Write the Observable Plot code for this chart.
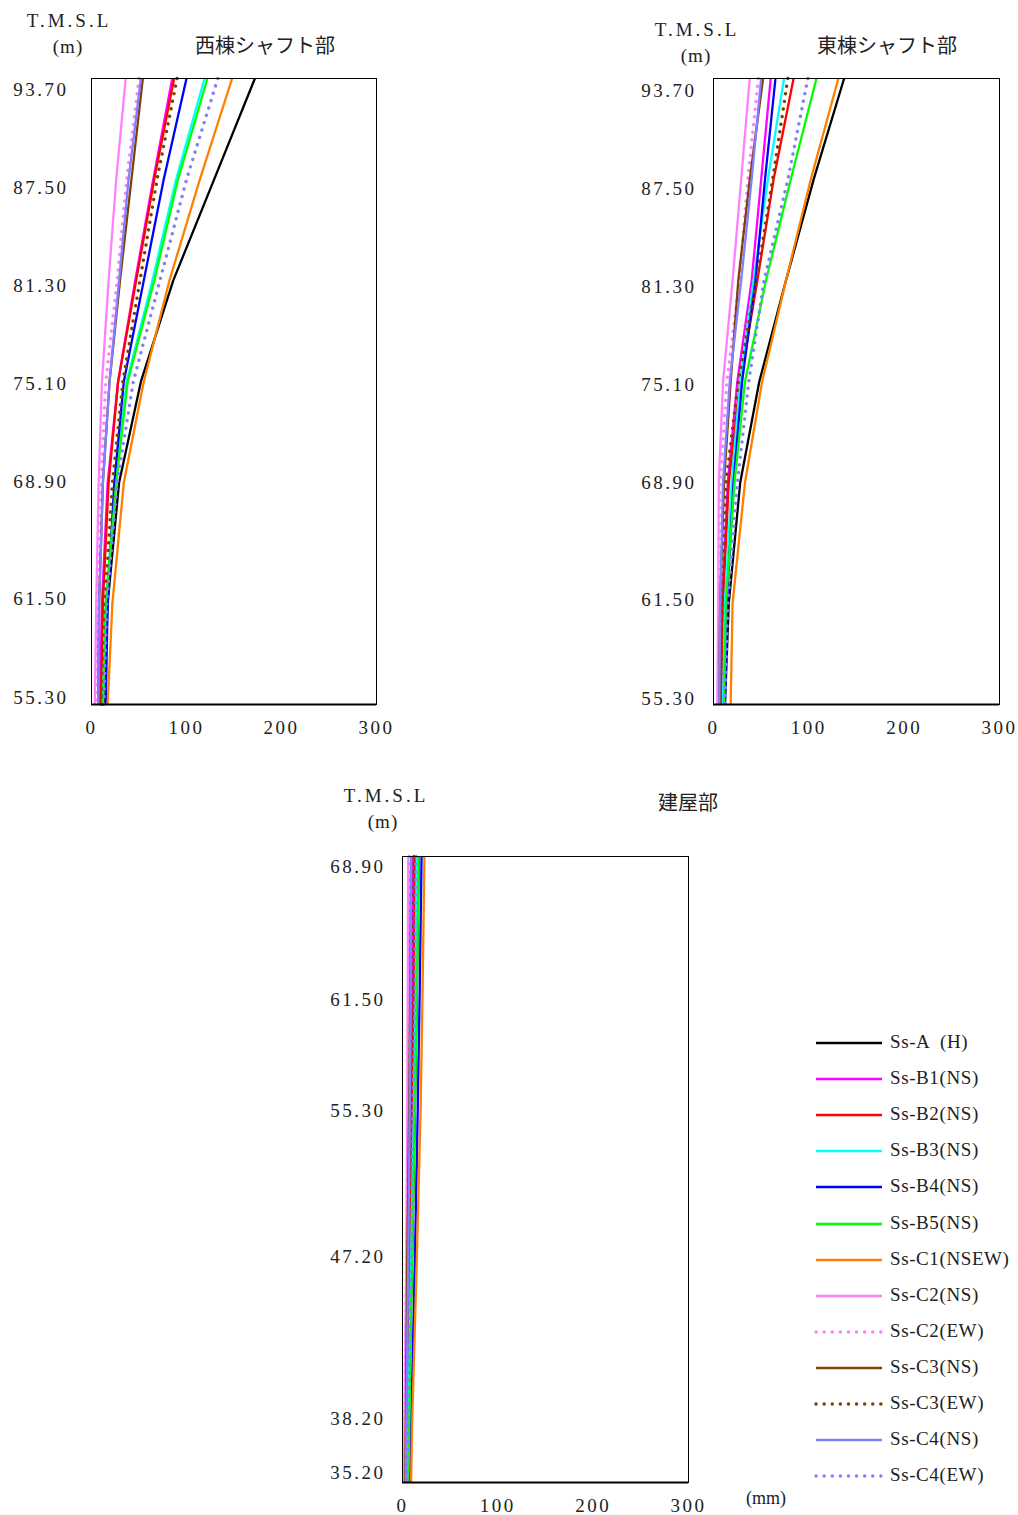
<!DOCTYPE html>
<html><head><meta charset="utf-8">
<script src="https://cdn.jsdelivr.net/npm/d3@7"></script>
<script src="https://cdn.jsdelivr.net/npm/@observablehq/plot@0.6"></script>
<style>
body{margin:0;background:#fff;}
#page{position:relative;width:1018px;height:1515px;background:#fff;overflow:hidden;font-family:"Liberation Serif","Noto Sans CJK JP",serif;color:#222;}
.abs{position:absolute;white-space:pre;transform:translate(-50%,-50%);}
.chart{position:absolute;}
.lg{position:absolute;font-size:19px;white-space:pre;}
</style></head>
<body><div id="page"></div>
<script>
// ---- data ----
const seriesNames = ["Ss-A  (H)","Ss-B1(NS)","Ss-B2(NS)","Ss-B3(NS)","Ss-B4(NS)","Ss-B5(NS)","Ss-C1(NSEW)","Ss-C2(NS)","Ss-C2(EW)","Ss-C3(NS)","Ss-C3(EW)","Ss-C4(NS)","Ss-C4(EW)"];
const seriesColors = ["#000000","#ff00ff","#ff0000","#00ffff","#0000ff","#00ff00","#ff8000","#ff80ff","#ff80ff","#804000","#804000","#8080ff","#8080ff"];
const seriesDotted = [false,false,false,false,false,false,false,false,true,false,true,false,true];

const shaftLevels = [93.70, 87.50, 81.30, 75.10, 68.90, 61.50, 55.30];
const buildingLevels = [68.90, 61.50, 55.30, 47.20, 38.20, 35.20];
const xTicks = [0, 100, 200, 300];

// West shaft (西棟シャフト部), mm at each shaft level
const westValues = [
  [172, 129, 86, 52, 29, 17, 13],
  [85, 65, 46, 28, 17, 11, 9],
  [87, 66, 47, 28, 18, 12, 10],
  [119, 89, 64, 37, 25, 15, 12],
  [100, 76, 55, 34, 24, 17, 15],
  [122, 91, 66, 38, 26, 15, 12],
  [148, 114, 82, 55, 34, 22, 17],
  [36, 26, 18, 11, 7.5, 5, 3.5],
  [50, 37, 27, 15, 10, 7, 6],
  [54, 42, 30, 19, 12, 8, 7],
  [90, 69, 51, 33, 22, 14, 11],
  [52, 39, 29, 19, 12, 8, 7],
  [133, 100, 72, 44, 27, 16, 13]
];
// East shaft (東棟シャフト部)
const eastValues = [
  [137, 105, 76, 48, 28, 16, 12],
  [60, 50, 40, 25, 15, 9, 7],
  [84, 63, 46, 28, 16, 10, 8],
  [74, 57, 42, 28, 19, 12, 10],
  [65, 54, 44, 30, 21, 14, 12],
  [108, 81, 55, 33, 22, 13, 11],
  [131, 102, 76, 51, 33, 20, 18],
  [38, 29, 20, 10, 5.5, 5, 4],
  [47, 36, 27, 14, 7, 5.5, 4.5],
  [52, 38, 26, 18, 11, 7, 6],
  [78, 62, 45, 26, 13, 9, 7],
  [50, 40, 29, 17, 10, 7, 6],
  [99, 78, 53, 37, 25, 15, 12]
];
// Building (建屋部)
const buildingValues = [
  [17, 15, 13, 10, 6, 5],
  [11, 10, 9, 7, 4, 3],
  [13, 12, 10, 8, 5, 4],
  [15, 14, 12, 9, 6, 5],
  [20, 18, 16, 13, 9, 8],
  [17, 15, 13, 10, 7, 6],
  [23, 21, 19, 15, 10, 9],
  [6, 5.5, 5, 4, 2, 1.5],
  [7, 6.5, 5.5, 4, 2, 1],
  [9, 8, 7, 5, 3.5, 3],
  [12, 11, 9.5, 7, 4.5, 3.5],
  [9, 8.5, 7.5, 6, 4, 3.5],
  [14, 13, 11, 9, 6, 5]
];

// ---- drawing ----
const page = document.getElementById("page");

function makeChart(levels, values, o) {
  const lo = d3.min(levels), hi = d3.max(levels);
  const rows = [];
  values.forEach((vals, si) => vals.forEach((v, li) => rows.push({s: si, v, z: levels[li]})));
  const marks = [];
  seriesNames.forEach((name, si) => {
    const d = rows.filter(r => r.s === si);
    marks.push(Plot.line(d, {
      x: "v", y: "z",
      stroke: seriesColors[si],
      strokeWidth: seriesDotted[si] ? 3.4 : 2.3,
      strokeDasharray: seriesDotted[si] ? "0.1 7.6" : null,
      strokeLinecap: seriesDotted[si] ? "round" : "butt"
    }));
  });
  marks.push(Plot.frame({stroke: "#000", strokeWidth: 1}));
  marks.push(Plot.ruleY([lo], {stroke: "#000", strokeWidth: 2}));
  // level labels, spaced slightly tighter than the frame as in the original sheet
  marks.push(Plot.text(levels, {
    y: d => lo + (d - lo) * o.k,
    text: d => d.toFixed(2),
    frameAnchor: "left", textAnchor: "end",
    dx: -o.yPad, dy: o.dy,
    fill: "#222", fontSize: 19
  }));
  const svg = Plot.plot({
    width: o.width, height: o.height,
    marginLeft: o.ml, marginTop: o.mt, marginRight: o.mr, marginBottom: o.mb,
    style: {fontFamily: "Liberation Serif, serif", fontSize: "19px", color: "#222", background: "transparent", letterSpacing: "2.5px", overflow: "visible"},
    x: {domain: [0, 300], ticks: xTicks, tickSize: 0, tickPadding: 16, label: null},
    y: {domain: [lo, hi], axis: null},
    marks
  });
  const div = document.createElement("div");
  div.className = "chart";
  div.style.left = o.left + "px";
  div.style.top = o.top + "px";
  div.appendChild(svg);
  page.appendChild(div);
}

// West: frame x 91..376, y 78..704
makeChart(shaftLevels, westValues, {left: 0, top: 0, width: 400, height: 750, ml: 91, mt: 78, mr: 24, mb: 46, yPad: 23, k: 0.971, dy: -7});
// East: frame x 713..999, y 78..704
makeChart(shaftLevels, eastValues, {left: 620, top: 0, width: 398, height: 750, ml: 93, mt: 78, mr: 19, mb: 46, yPad: 17, k: 0.971, dy: -6});
// Building: frame x 402..688, y 856..1482
makeChart(buildingLevels, buildingValues, {left: 300, top: 780, width: 410, height: 735, ml: 102, mt: 76, mr: 22, mb: 33, yPad: 17, k: 0.968, dy: -10});

function label(text, x, y, size, extra) {
  const el = document.createElement("div");
  el.className = "abs";
  el.textContent = text;
  el.style.left = x + "px";
  el.style.top = y + "px";
  el.style.fontSize = size + "px";
  if (extra) Object.assign(el.style, extra);
  page.appendChild(el);
}
const sp = {letterSpacing: "3px"};
label("T.M.S.L", 69, 21, 19, sp);
label("(m)", 68, 47, 19, {letterSpacing: "1px"});
label("西棟シャフト部", 265, 44, 20);
label("T.M.S.L", 697, 30, 19, sp);
label("(m)", 696, 56, 19, {letterSpacing: "1px"});
label("東棟シャフト部", 887, 44, 20);
label("T.M.S.L", 386, 796, 19, sp);
label("(m)", 383, 822, 19, {letterSpacing: "1px"});
label("建屋部", 688, 801, 20);
label("(mm)", 766, 1498, 18);

// legend
seriesNames.forEach((name, i) => {
  const cy = 1043 + i * 36.1;
  const ns = "http://www.w3.org/2000/svg";
  const svg = document.createElementNS(ns, "svg");
  svg.setAttribute("width", 72); svg.setAttribute("height", 10);
  svg.style.position = "absolute";
  svg.style.left = "813px"; svg.style.top = (cy - 5) + "px";
  const ln = document.createElementNS(ns, "line");
  ln.setAttribute("x1", 3); ln.setAttribute("x2", 69);
  ln.setAttribute("y1", 5); ln.setAttribute("y2", 5);
  ln.setAttribute("stroke", seriesColors[i]);
  ln.setAttribute("stroke-width", seriesDotted[i] ? 3.4 : 2.6);
  if (seriesDotted[i]) { ln.setAttribute("stroke-dasharray", "0.1 8"); ln.setAttribute("stroke-linecap", "round"); }
  svg.appendChild(ln);
  page.appendChild(svg);
  const t = document.createElement("div");
  t.className = "lg";
  t.textContent = name;
  t.style.left = "890px";
  t.style.top = (cy - 12) + "px";
  t.style.letterSpacing = "0.6px";
  page.appendChild(t);
});
</script>
</body></html>
